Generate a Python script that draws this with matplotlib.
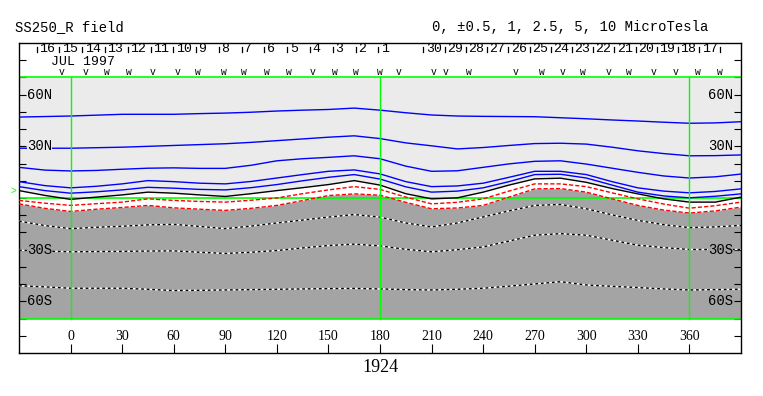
import matplotlib
matplotlib.use('Agg')
import matplotlib.pyplot as plt
import numpy as np

# longitude grid for the contour lines (Carrington longitude)
lon = [-30, -15, 0, 15, 30, 45, 60, 75, 90, 105, 120, 135, 150, 165, 180,
       195, 210, 225, 240, 255, 270, 285, 300, 315, 330, 345, 360, 375, 390]

# contour latitudes
c_p10 = [47.0, 47.3, 47.6, 48.1, 48.6, 48.6, 48.6, 49.0, 49.3, 49.8, 50.5, 51.0, 51.4, 52.2, 51.0,
         49.5, 48.2, 47.6, 47.4, 47.3, 47.2, 46.6, 46.0, 45.3, 44.7, 44.0, 43.4, 43.6, 44.3]
c_p5 = [28.9, 28.9, 28.9, 29.2, 29.5, 30.0, 30.5, 31.0, 31.5, 32.3, 33.3, 34.3, 35.3, 36.1, 34.5,
        32.0, 30.3, 28.5, 29.3, 30.5, 31.6, 31.8, 31.3, 29.5, 27.4, 25.8, 24.5, 24.6, 25.0]
c_p25 = [17.8, 16.2, 15.7, 16.0, 16.7, 17.3, 17.5, 17.2, 17.2, 19.0, 21.6, 22.8, 23.6, 24.5, 22.8,
         18.5, 15.5, 15.8, 17.8, 19.8, 21.3, 21.6, 19.7, 17.3, 14.9, 12.8, 11.6, 12.3, 13.9]
c_p1 = [9.5, 7.2, 5.9, 6.8, 8.2, 10.1, 9.5, 8.6, 8.2, 9.6, 11.6, 13.6, 15.5, 16.3, 14.0,
        9.5, 6.6, 7.0, 8.6, 12.0, 15.5, 15.5, 13.6, 9.5, 5.9, 4.0, 3.0, 3.8, 5.3]
c_p05 = [6.6, 4.3, 2.8, 3.6, 4.7, 6.2, 5.7, 5.0, 4.7, 6.0, 7.8, 10.0, 12.0, 13.6, 11.0,
         6.5, 3.4, 4.0, 5.9, 9.5, 13.6, 13.8, 11.6, 7.5, 3.4, 1.2, 0.1, 1.0, 2.4]
c_0 = [4.3, 1.5, -0.8, 0.5, 1.8, 3.4, 2.8, 1.8, 0.9, 2.5, 4.3, 6.0, 7.8, 10.1, 7.5,
       2.5, -0.5, 0.1, 3.4, 7.5, 11.1, 11.5, 9.1, 5.5, 2.4, -0.5, -2.4, -2.4, 0.5]
c_m05 = [-1.4, -3.0, -4.3, -3.3, -2.4, -0.5, -1.4, -2.0, -2.4, -1.3, 0.0, 2.5, 4.7, 6.6, 5.0,
         0.5, -3.4, -2.5, -0.5, 4.0, 8.2, 8.2, 6.6, 3.0, -0.5, -3.5, -5.9, -4.5, -2.4]
c_m1 = [-3.4, -6.0, -7.8, -6.5, -5.5, -4.3, -5.7, -6.5, -7.2, -6.0, -4.3, -1.5, 1.4, 2.4, 1.6,
        -2.5, -6.25, -5.8, -4.3, 0.5, 5.3, 5.5, 3.4, -0.5, -4.3, -7.0, -8.75, -7.5, -5.3]
c_m25 = [-13.4, -16.0, -17.8, -17.0, -16.4, -15.6, -15.3, -16.5, -17.8, -16.3, -14.5, -12.8, -11.1, -9.6, -11.1,
         -14.5, -16.8, -14.5, -11.0, -7.5, -4.3, -3.75, -6.25, -9.8, -13.0, -15.5, -17.2, -16.8, -15.9]
c_m5 = [-30.3, -30.8, -31.25, -31.1, -31.0, -30.8, -30.7, -31.5, -32.2, -31.5, -30.5, -29.0, -27.6, -26.8, -27.8,
        -29.8, -31.25, -30.0, -28.4, -25.0, -21.6, -20.7, -21.6, -24.5, -27.4, -28.8, -29.9, -29.9, -29.9]
c_m10 = [-51.0, -51.6, -52.4, -52.4, -52.4, -53.0, -53.75, -53.6, -53.4, -53.2, -53.0, -52.8, -52.6, -52.5, -52.8,
         -53.2, -53.4, -53.0, -52.4, -51.2, -49.9, -48.6, -50.5, -51.3, -52.0, -52.8, -53.4, -53.2, -53.0]

# dates along the top strip
days1 = ['16', '15', '14', '13', '12', '11', '10', '9', '8', '7', '6', '5', '4', '3', '2', '1']
days2 = ['30', '29', '28', '27', '26', '25', '24', '23', '22', '21', '20', '19', '18', '17']
# polarity markers (longitude, glyph)
mark_lon = [-5, 9, 21, 34, 48, 62, 74, 89, 101, 114, 127, 141, 154, 166, 180, 191,
            211, 218, 232, 259, 274, 286, 298, 313, 325, 339, 352, 365, 378]
mark_txt = ['v', 'v', 'w', 'w', 'v', 'v', 'w', 'w', 'w', 'w', 'w', 'v', 'w', 'w', 'w', 'v',
            'v', 'v', 'w', 'v', 'w', 'v', 'w', 'v', 'w', 'v', 'v', 'w', 'w']

xticks = list(range(0, 361, 30))
lat_labels = [(60, '60N'), (30, '30N'), (-30, '30S'), (-60, '60S')]

LIGHT = '#ebebeb'
DARK = '#a4a4a4'
GREEN = '#00ff00'
MONO = 'Liberation Mono'
SERIF = 'Liberation Serif'

fig = plt.figure(figsize=(7.63, 3.96), dpi=100)
ax = fig.add_axes([19/763, 1-353/396, 722/763, 310/396])
ax.set_xlim(-30, 390)
ax.set_ylim(-90, 90)
ax.set_facecolor('white')

# shaded polarity regions
ax.fill_between(lon, c_0, 70, color=LIGHT, lw=0, zorder=1)
ax.fill_between(lon, -70, c_m1, color=DARK, lw=0, zorder=1)

# green frame and reference lines
for la in [70, 0, -70]:
    ax.plot([-30, 390], [la, la], color=GREEN, lw=1.2, zorder=2)

# positive contours
for c in [c_p10, c_p5, c_p25, c_p1, c_p05]:
    ax.plot(lon, c, color='#0000ff', lw=1.0, zorder=3)
ax.plot(lon, c_0, color='black', lw=1.0, zorder=3)
# weak negative contours
for c in [c_m05, c_m1]:
    ax.plot(lon, c, color='red', lw=1.0, ls=(0, (3, 1.5)), zorder=3)
# stronger negative contours
for c in [c_m25, c_m5, c_m10]:
    ax.plot(lon, c, color='white', lw=1.0, zorder=3)
    ax.plot(lon, c, color='black', lw=1.0, ls=(0, (2, 2)), zorder=3)

for lo in [0, 180, 360]:
    ax.plot([lo, lo], [-70, 70], color=GREEN, lw=1.0, zorder=4)

# latitude labels on both sides
for la, txt in lat_labels:
    bg = LIGHT if la > 0 else DARK
    ax.text(-25.5, la, txt, ha='left', va='center', family=MONO, fontsize=10, zorder=5,
            bbox=dict(facecolor=bg, edgecolor='none', pad=0))
    ax.text(385.5, la, txt, ha='right', va='center', family=MONO, fontsize=10, zorder=5,
            bbox=dict(facecolor=bg, edgecolor='none', pad=0))

# longitude labels inside the bottom strip
for lo in xticks:
    ax.text(lo, -80.5, str(lo), ha='center', va='center', family=SERIF, fontsize=10)
ax.text(180, -98.5, '1924', ha='center', va='center', family=SERIF, fontsize=13, clip_on=False)

# day ticks and labels in the top strip
t1 = np.linspace(-19.8, 179.1, len(days1))
t2 = np.linspace(205.3, 378.0, len(days2) + 1)
for t in list(t1) + list(t2):
    ax.plot([t, t], [84.8, 87.9], color='black', lw=0.9)
for t, d in zip(t1, days1):
    ax.text(t + 1.4, 86.3, d, ha='left', va='center', family=MONO, fontsize=9.5)
for t, d in zip(t2, days2):
    ax.text(t + 1.4, 86.3, d, ha='left', va='center', family=MONO, fontsize=9.5)
ax.text(-11.5, 78.8, 'JUL 1997', ha='left', va='center', family=MONO, fontsize=9.5)
for lo, m in zip(mark_lon, mark_txt):
    ax.text(lo, 73.3, m, ha='center', va='center', family=MONO, fontsize=7)

ax.text(-33, 4, '>', color=GREEN, ha='center', va='center', family=MONO, fontsize=7, clip_on=False)

ax.set_xticks(xticks)
ax.set_xticklabels([])
ax.set_yticks(range(-80, 81, 10))
ax.set_yticklabels([])
ax.tick_params(axis='x', direction='in', length=6.5, width=0.8, bottom=True, top=False)
ax.tick_params(axis='y', direction='in', length=5, width=0.8, left=True, right=True)
for s in ax.spines.values():
    s.set_linewidth(1.0)
    s.set_color('black')

fig.text(15/763, 1-27/396, 'SS250_R field', ha='left', va='center', family=MONO, fontsize=10)
fig.text(432/763, 1-27/396, '0, \u00b10.5, 1, 2.5, 5, 10 MicroTesla', ha='left', va='center',
         family=MONO, fontsize=10)

fig.savefig('out.png', dpi=100)
